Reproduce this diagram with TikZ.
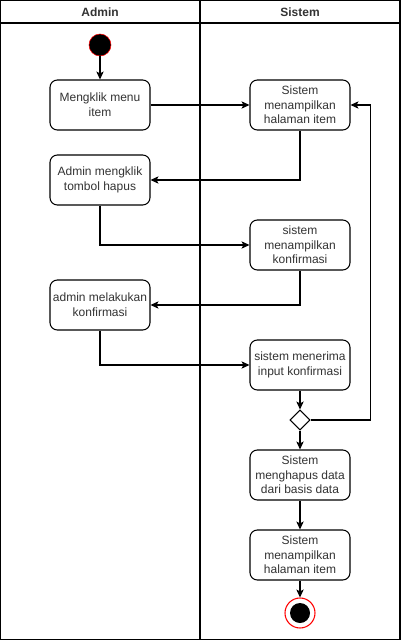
\documentclass[tikz,border=0pt]{standalone}
\usepackage{fontspec}
\setmainfont{Liberation Sans}
\usetikzlibrary{arrows.meta,positioning,shapes.geometric}
\definecolor{StartRed}{RGB}{255,0,0}
\definecolor{InkGray}{RGB}{51,51,51}
\tikzset{
  >={Stealth[length=6pt,width=5.5pt,inset=1.5pt]},
  act/.style={draw=black,thick,rounded corners=5.5pt,fill=white,align=center,text=InkGray,font=\fontsize{9}{11}\selectfont,minimum width=75pt,minimum height=37.5pt,inner sep=2pt},
  lane/.style={text=InkGray,font=\bfseries\fontsize{9}{10.5}\selectfont},
  startdot/.style={circle,draw=StartRed,fill=black,minimum size=16.5pt,inner sep=0pt},
  enddot/.style={circle,draw=StartRed,fill=white,minimum size=22.5pt,inner sep=0pt,thick},
  enddotin/.style={circle,fill=black,minimum size=15pt,inner sep=0pt},
  choice/.style={diamond,draw=black,fill=white,minimum size=15pt,inner sep=0pt,thick},
  flow/.style={->,thick}
}
\begin{document}
\begin{tikzpicture}[x=0.75pt,y=-0.75pt]
  \useasboundingbox (0,0) rectangle (401,641);
  % swimlanes
  \draw[thick] (0.5,0.5) rectangle (400,639.5);
  \draw[thick] (0.5,23) -- (400,23);
  \draw[thick] (200,0.5) -- (200,639.5);
  \node[lane] (hAdmin) at (100,12) {Admin};
  \node[lane] (hSistem) at (300,12) {Sistem};
  % activities
  \node[startdot] (start) at (100,45) {};
  \node[act] (klikMenu) at (100,105) {Mengklik menu\\item};
  \node[act] (tampilItem) at (300,105) {Sistem\\menampilkan\\halaman item};
  \node[act] (klikHapus) at (100,180) {Admin mengklik\\tombol hapus};
  \node[act] (tampilKonf) at (300,245) {sistem\\menampilkan\\konfirmasi};
  \node[act] (adminKonf) at (100,305) {admin melakukan\\konfirmasi};
  \node[act] (terimaKonf) at (300,365) {sistem menerima\\input konfirmasi};
  \node[choice] (cek) at (300,420) {};
  \node[act] (hapusData) at (300,475) {Sistem\\menghapus data\\dari basis data};
  \node[act] (tampilAkhir) at (300,555) {Sistem\\menampilkan\\halaman item};
  \node[enddot] (finish) at (300,613) {};
  \node[enddotin] (finishIn) at (300,613) {};
  % connectors
  \draw[flow] (start) -- (klikMenu);
  \draw[flow] (klikMenu) -- (tampilItem);
  \draw[flow] (tampilItem.south) |- (klikHapus.east);
  \draw[flow] (klikHapus.south) |- (tampilKonf.west);
  \draw[flow] (tampilKonf.south) |- (adminKonf.east);
  \draw[flow] (adminKonf.south) |- (terimaKonf.west);
  \draw[flow] (terimaKonf) -- (cek);
  \draw[flow] (cek.east) -- ++(60,0) |- (tampilItem.east);
  \draw[flow] (cek) -- (hapusData);
  \draw[flow] (hapusData) -- (tampilAkhir);
  \draw[flow] (tampilAkhir) -- (finish);
\end{tikzpicture}
\end{document}
